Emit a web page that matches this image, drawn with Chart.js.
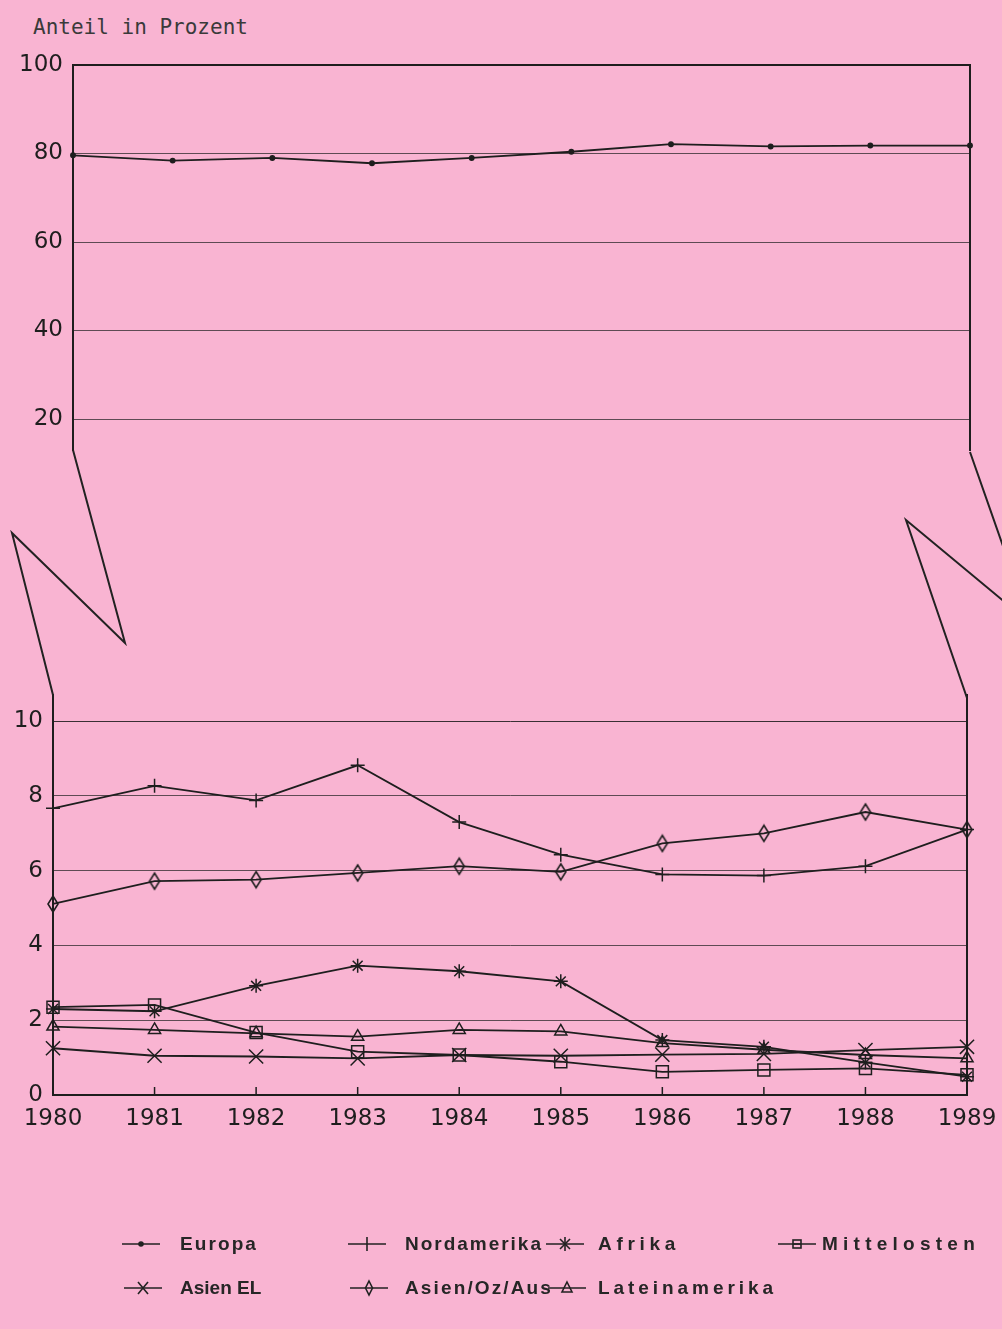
<!DOCTYPE html>
<html><head><meta charset="utf-8">
<script src="https://cdn.jsdelivr.net/npm/chart.js@4.4.1/dist/chart.umd.min.js"></script>
<style>
html,body{margin:0;padding:0;background:#f9b4d2;width:1002px;height:1329px;overflow:hidden;position:relative}
#title{position:absolute;left:33px;top:15px;font:21px "DejaVu Sans Mono",monospace;color:#3a3a3a;white-space:pre}
#cTop{position:absolute;left:0;top:0}
#cBot{position:absolute;left:0;top:660px}
#brk{position:absolute;left:0;top:0}
.lt{position:absolute;font:bold 19px "Liberation Sans",Arial,sans-serif;color:#262626;white-space:nowrap;line-height:22px}
.ls{position:absolute}
</style></head><body>
<div id="title">Anteil in Prozent</div>
<canvas id="cTop" width="1002" height="480"></canvas>
<canvas id="cBot" width="1002" height="500"></canvas>
<svg id="brk" width="1002" height="1329"><g stroke="#222" stroke-width="2" fill="none" stroke-linejoin="miter">
<polyline points="73,450 125,643 12,533 53,695"/>
<polyline points="970,452 1030,623 906,520 967,698"/>
</g></svg>
<div id="legend"></div>
<script>
// ---- data ----
const years = ['1980','1981','1982','1983','1984','1985','1986','1987','1988','1989'];
const europa       = [79.6, 78.4, 79.0, 77.8, 79.0, 80.4, 82.1, 81.6, 81.8, 81.8];
const nordamerika  = [7.67, 8.27, 7.88, 8.82, 7.30, 6.43, 5.90, 5.87, 6.12, 7.10];
const asienOzAus   = [5.11, 5.72, 5.76, 5.94, 6.12, 5.97, 6.73, 7.00, 7.57, 7.10];
const afrika       = [2.30, 2.24, 2.92, 3.46, 3.31, 3.04, 1.47, 1.29, 0.87, 0.49];
const mittelosten  = [2.35, 2.41, 1.67, 1.16, 1.07, 0.89, 0.62, 0.67, 0.71, 0.54];
const lateinamerika= [1.83, 1.74, 1.65, 1.56, 1.74, 1.70, 1.39, 1.21, 1.07, 0.98];
const asienEL      = [1.25, 1.05, 1.03, 0.98, 1.07, 1.05, 1.08, 1.10, 1.20, 1.29];
const topTicks = [20, 40, 60, 80, 100];
const botTicks = [0, 2, 4, 6, 8, 10];

const INK = '#1e1e1e';
const GRID = 'rgba(30,30,30,0.7)';
const tickFont = {family:'"DejaVu Sans", sans-serif', size:23};

function diamond(w,h){
  const c=document.createElement('canvas'); c.width=w+4; c.height=h+4;
  const g=c.getContext('2d'); g.strokeStyle=INK; g.lineWidth=1.6;
  g.beginPath(); g.moveTo(c.width/2,2); g.lineTo(c.width-2,c.height/2);
  g.lineTo(c.width/2,c.height-2); g.lineTo(2,c.height/2); g.closePath(); g.stroke();
  return c;
}
const diamondImg = diamond(10,16);

function ds(label,data,style,radius,extra){
  return Object.assign({label,data,borderColor:INK,borderWidth:1.8,pointStyle:style,
    pointRadius:radius,pointHoverRadius:radius,pointBorderColor:INK,pointBorderWidth:1.5,
    pointBackgroundColor:'transparent',tension:0,clip:false,fill:false},extra||{});
}

const innerTicks = {id:'innerTicks', beforeDatasetsDraw(chart){
  const {ctx, chartArea} = chart; const x = chart.scales.x;
  ctx.save(); ctx.strokeStyle=INK; ctx.lineWidth=1.5;
  x.ticks.forEach((t,i)=>{ const px=x.getPixelForTick(i);
    ctx.beginPath(); ctx.moveTo(px,chartArea.bottom); ctx.lineTo(px,chartArea.bottom-8); ctx.stroke(); });
  ctx.restore();
}};

function rightBorderAxis(min,max){
  return {position:'right', min, max, afterFit:a=>{a.width=0;},
    ticks:{display:false}, grid:{display:false,drawTicks:false},
    border:{display:true,color:INK,width:2}};
}

new Chart(document.getElementById('cTop'), {
  type:'line',
  data:{labels:years, datasets:[ds('Europa',europa,'circle',2.2,{pointBackgroundColor:INK})]},
  options:{
    responsive:false, animation:false, events:[],
    layout:{padding:{top:65,right:32,bottom:30,left:0}},
    plugins:{legend:{display:false},tooltip:{enabled:false}},
    scales:{
      x:{display:false},
      y:{min:13,max:100,
        afterFit:a=>{a.width=73;},
        afterBuildTicks:a=>{a.ticks=topTicks.map(v=>({value:v}));},
        ticks:{color:INK,font:tickFont,padding:10},
        grid:{drawTicks:false,
          color:c=>c.tick && c.tick.value===100?INK:GRID,
          lineWidth:c=>c.tick && c.tick.value===100?2:1},
        border:{display:true,color:INK,width:2}},
      y2:rightBorderAxis(13,100)
    }
  }
});

new Chart(document.getElementById('cBot'), {
  type:'line',
  data:{labels:years, datasets:[
    ds('Nordamerika',nordamerika,'cross',7),
    ds('Asien/Oz/Aus',asienOzAus,diamondImg,8),
    ds('Afrika',afrika,'star',7),
    ds('Mittelosten',mittelosten,'rect',8.5),
    ds('Lateinamerika',lateinamerika,'triangle',7),
    ds('Asien EL',asienEL,'crossRot',10)
  ]},
  options:{
    responsive:false, animation:false, events:[],
    layout:{padding:{top:35,right:35,bottom:20,left:0}},
    plugins:{legend:{display:false},tooltip:{enabled:false}},
    scales:{
      x:{afterFit:a=>{a.height=45;a.paddingLeft=0;a.paddingRight=0;},
        ticks:{color:INK,font:tickFont,padding:10,maxRotation:0,autoSkip:false},
        grid:{drawOnChartArea:false,drawTicks:false},
        border:{display:true,color:INK,width:2}},
      y:{min:0,max:10.7,
        afterFit:a=>{a.width=53;},
        afterBuildTicks:a=>{a.ticks=botTicks.map(v=>({value:v}));},
        ticks:{color:INK,font:tickFont,padding:10},
        grid:{drawTicks:false,color:c=>c.tick && c.tick.value===10?'rgba(25,25,25,0.85)':GRID,lineWidth:1},
        border:{display:true,color:INK,width:2}},
      y2:rightBorderAxis(0,10.7)
    }
  },
  plugins:[innerTicks]
});

// ---- legend (HTML) ----
const legendLabels = ['Europa','Nordamerika','Afrika','Mittelosten','Asien EL','Asien/Oz/Aus','Lateinamerika'];
const legendMarks  = ['dot','plus','star','square','x','diamond','triangle'];
const legendLayout = [ // symbol x, text x, text width, row y (center)
  [122,180,78,1244],[348,405,138,1244],[546,598,82,1244],[778,822,158,1244],
  [124,180,78,1288],[350,405,148,1288],[548,598,179,1288]];
function markSvg(kind){
  const m = {
    dot:'<circle cx="19" cy="10" r="2" fill="#222"/>',
    plus:'<line x1="19" y1="3" x2="19" y2="17"/>',
    star:'<line x1="19" y1="3" x2="19" y2="17"/><line x1="14" y1="5" x2="24" y2="15"/><line x1="24" y1="5" x2="14" y2="15"/>',
    square:'<rect x="15" y="6" width="8" height="8" fill="none"/><line x1="15" y1="10" x2="23" y2="10"/>',
    x:'<line x1="14" y1="4" x2="24" y2="16"/><line x1="24" y1="4" x2="14" y2="16"/>',
    diamond:'<polygon points="19,3 22.5,10 19,17 15.5,10" fill="none"/>',
    triangle:'<polygon points="19,4 24,14 14,14" fill="none"/>'
  }[kind];
  return '<svg width="38" height="20"><g stroke="#222" stroke-width="1.6"><line x1="0" y1="10" x2="38" y2="10"/>'+m+'</g></svg>';
}
const lg = document.getElementById('legend');
legendLabels.forEach((lab,i)=>{
  const [sx,tx,tw,cy] = legendLayout[i];
  const s=document.createElement('div'); s.className='ls'; s.style.left=sx+'px'; s.style.top=(cy-10)+'px';
  s.innerHTML=markSvg(legendMarks[i]); lg.appendChild(s);
  const t=document.createElement('div'); t.className='lt'; t.textContent=lab;
  t.style.left=tx+'px'; t.style.top=(cy-11)+'px'; lg.appendChild(t);
  const nat=t.getBoundingClientRect().width;
  t.style.letterSpacing=Math.max(0,(tw-nat)/lab.length).toFixed(2)+'px';
});
</script>
</body></html>
